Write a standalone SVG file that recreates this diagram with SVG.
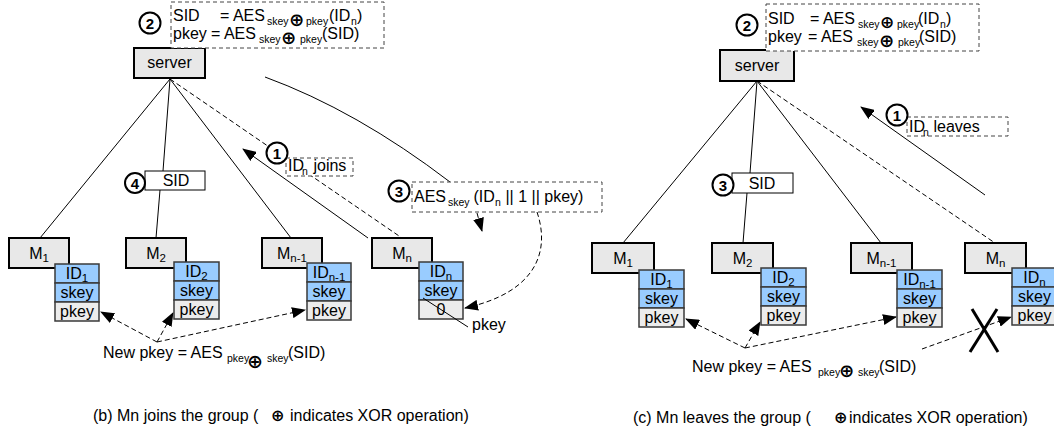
<svg xmlns="http://www.w3.org/2000/svg" width="1054" height="432" viewBox="0 0 1054 432">
  <defs>
    <marker id="arrow" markerWidth="14" markerHeight="11" refX="13" refY="5.5" orient="auto" markerUnits="userSpaceOnUse">
      <path d="M0,0 L14,5.5 L0,11 Z" fill="#000"/>
    </marker>
  </defs>
  <style>
    text { font-family: "Liberation Sans", Arial, sans-serif; font-size: 16px; fill: #000; }
    .sub { font-size: 10.5px; }
    .msub { font-size: 11.5px; }
    .xor { font-family: "DejaVu Sans", sans-serif; font-weight: bold; font-size: 18px; }
    .num { font-weight: bold; font-size: 15px; text-anchor: middle; }
    .c { text-anchor: middle; }
    .circ { fill: #fff; stroke: #000; stroke-width: 2; }
    .node { fill: #e8e8e8; stroke: #000; stroke-width: 2; }
    .blue { fill: #99ccff; stroke: #3a3a3a; stroke-width: 1.5; }
    .gray { fill: #ececec; stroke: #3a3a3a; stroke-width: 1.5; }
    .note { fill: #fff; stroke: #444; stroke-width: 1; stroke-dasharray: 4 3; }
    .box { fill: #fff; stroke: #000; stroke-width: 1; }
    .link { fill: none; stroke: #000; stroke-width: 1; }
    .dash { fill: none; stroke: #000; stroke-width: 1; stroke-dasharray: 5 3; }
    .cross { fill: none; stroke: #000; stroke-width: 3; }
  </style>

  <!-- ===================== connectors ===================== -->
  <g id="connectors">
    <!-- (b) tree edges -->
    <line class="link" x1="170" y1="79" x2="40" y2="238"/>
    <line class="link" x1="170" y1="79" x2="163" y2="171"/>
    <line class="link" x1="160" y1="190" x2="156" y2="238"/>
    <line class="link" x1="170" y1="79" x2="291" y2="238"/>
    <line class="dash" x1="170" y1="79" x2="402" y2="238"/>
    <line class="link" x1="368" y1="238" x2="243" y2="149" marker-end="url(#arrow)"/>
    <path class="link" d="M265,77 Q356.5,110.5 450,182"/>
    <line class="dash" x1="477" y1="213" x2="482" y2="231" marker-end="url(#arrow)"/>
    <path class="dash" d="M537,212 C550,250 538,292 465,308" marker-end="url(#arrow)"/>
    <line class="dash" x1="157" y1="342" x2="101" y2="312" marker-end="url(#arrow)"/>
    <line class="dash" x1="157" y1="342" x2="173" y2="313" marker-end="url(#arrow)"/>
    <line class="dash" x1="157" y1="342" x2="305" y2="310" marker-end="url(#arrow)"/>

    <!-- (c) tree edges -->
    <line class="link" x1="757" y1="81" x2="623" y2="243"/>
    <line class="link" x1="757" y1="81" x2="750" y2="173"/>
    <line class="link" x1="747" y1="193" x2="743" y2="243"/>
    <line class="link" x1="757" y1="81" x2="881" y2="243"/>
    <line class="dash" x1="757" y1="81" x2="995" y2="243"/>
    <line class="link" x1="985" y1="195" x2="861" y2="107" marker-end="url(#arrow)"/>
    <line class="dash" x1="745" y1="348" x2="686" y2="319" marker-end="url(#arrow)"/>
    <line class="dash" x1="745" y1="348" x2="760" y2="322" marker-end="url(#arrow)"/>
    <line class="dash" x1="745" y1="348" x2="896" y2="317" marker-end="url(#arrow)"/>
    <line class="dash" x1="922" y1="349" x2="1011" y2="317" marker-end="url(#arrow)"/>
    <line class="cross" x1="972" y1="309" x2="998" y2="352"/>
    <line class="cross" x1="997" y1="309" x2="970" y2="352"/>
  </g>

  <!-- ===================== (b) Mn joins ===================== -->
  <g id="b-server">
    <rect class="node" x="134" y="48" width="71" height="30"/>
    <text class="c" x="169.5" y="68">server</text>
  </g>
  <g id="b-step2">
    <rect class="note" x="171" y="2" width="213" height="46"/>
    <circle class="circ" cx="150" cy="23" r="10.5"/>
    <text class="num" x="150" y="28.5">2</text>
    <text><tspan x="173" y="21">SID</tspan><tspan x="220" y="21">= AES</tspan><tspan class="sub" x="267" y="25">skey</tspan><tspan class="xor" x="289" y="26">⊕</tspan><tspan class="sub" x="306" y="25">pkey</tspan><tspan x="329" y="21">(ID</tspan><tspan class="sub" x="351" y="25">n</tspan><tspan x="357" y="21">)</tspan></text>
    <text><tspan x="173" y="39">pkey</tspan><tspan x="211" y="39">= AES</tspan><tspan class="sub" x="259" y="43">skey</tspan><tspan class="xor" x="281" y="44">⊕</tspan><tspan class="sub" x="300" y="43">pkey</tspan><tspan x="322" y="39">(SID)</tspan></text>
  </g>
  <g id="b-step1">
    <rect class="note" x="286" y="158" width="67" height="18"/>
    <circle class="circ" cx="277" cy="153" r="10.5"/>
    <text class="num" x="277" y="158.5">1</text>
    <text><tspan x="288" y="171">ID</tspan><tspan class="sub" x="302" y="175">n</tspan><tspan x="309" y="171"> joins</tspan></text>
  </g>
  <g id="b-step3">
    <rect class="note" x="412" y="182" width="190" height="30"/>
    <circle class="circ" cx="399" cy="191" r="10.5"/>
    <text class="num" x="399" y="196.5">3</text>
    <text><tspan x="414" y="202">AES</tspan><tspan class="sub" x="448" y="206">skey</tspan><tspan x="469" y="202"> (ID</tspan><tspan class="sub" x="495" y="206">n</tspan><tspan x="501" y="202"> || 1 || pkey)</tspan></text>
  </g>
  <g id="b-step4">
    <rect class="box" x="145" y="171" width="60" height="19"/>
    <circle class="circ" cx="135" cy="183" r="10"/>
    <text class="num" x="135" y="188.5">4</text>
    <text class="c" x="176" y="186">SID</text>
  </g>

  <g id="b-m1">
    <rect class="node" x="9" y="238" width="60" height="30"/>
    <text class="c" x="39" y="259">M<tspan class="msub" dy="3">1</tspan></text>
    <rect class="blue" x="55" y="264" width="44" height="19"/>
    <rect class="blue" x="55" y="283" width="44" height="19"/>
    <rect class="gray" x="55" y="302" width="44" height="19"/>
    <text class="c" x="77" y="279">ID<tspan class="msub" dy="3">1</tspan></text>
    <text class="c" x="77" y="298">skey</text>
    <text class="c" x="77" y="317">pkey</text>
  </g>
  <g id="b-m2">
    <rect class="node" x="126" y="238" width="60" height="30"/>
    <text class="c" x="156" y="259">M<tspan class="msub" dy="3">2</tspan></text>
    <rect class="blue" x="174" y="262" width="45" height="19"/>
    <rect class="blue" x="174" y="281" width="45" height="19"/>
    <rect class="gray" x="174" y="300" width="45" height="19"/>
    <text class="c" x="196.5" y="277">ID<tspan class="msub" dy="3">2</tspan></text>
    <text class="c" x="196.5" y="296">skey</text>
    <text class="c" x="196.5" y="315">pkey</text>
  </g>
  <g id="b-mn1">
    <rect class="node" x="262" y="238" width="60" height="30"/>
    <text class="c" x="292" y="259">M<tspan class="msub" dy="3">n-1</tspan></text>
    <rect class="blue" x="307" y="263" width="44" height="19"/>
    <rect class="blue" x="307" y="282" width="44" height="19"/>
    <rect class="gray" x="307" y="301" width="44" height="19"/>
    <text class="c" x="329" y="278">ID<tspan class="msub" dy="3">n-1</tspan></text>
    <text class="c" x="329" y="297">skey</text>
    <text class="c" x="329" y="316">pkey</text>
  </g>
  <g id="b-mn">
    <rect class="node" x="372" y="238" width="60" height="30"/>
    <text class="c" x="402" y="259">M<tspan class="msub" dy="3">n</tspan></text>
    <rect class="blue" x="419" y="262" width="44" height="19"/>
    <rect class="blue" x="419" y="281" width="44" height="19"/>
    <rect class="gray" x="419" y="300" width="44" height="19"/>
    <text class="c" x="441" y="277">ID<tspan class="msub" dy="3">n</tspan></text>
    <text class="c" x="441" y="296">skey</text>
    <text class="c" x="441" y="315">0</text>
    <!-- strike-through: the zero placeholder is replaced by pkey -->
    <line class="link" x1="423" y1="298" x2="468" y2="327"/>
    <text x="472" y="330">pkey</text>
  </g>
  <g id="b-newkey">
    <text><tspan x="103" y="358">New pkey = AES</tspan><tspan class="sub" x="227" y="362">pkey</tspan><tspan class="xor" x="247" y="368" style="font-size:19px">⊕</tspan><tspan class="sub" x="267" y="362">skey</tspan><tspan x="288" y="358">(SID)</tspan></text>
  </g>
  <text id="b-caption"><tspan x="93" y="421">(b) Mn joins the group  (</tspan><tspan class="xor" x="271" y="421" style="font-size:16px">⊕</tspan><tspan x="290" y="421">indicates XOR operation)</tspan></text>

  <!-- ===================== (c) Mn leaves ===================== -->
  <g id="c-server">
    <rect class="node" x="720" y="50" width="74" height="31"/>
    <text class="c" x="757" y="71">server</text>
  </g>
  <g id="c-step2">
    <rect class="note" x="766" y="4" width="213" height="47"/>
    <circle class="circ" cx="747" cy="25" r="10.5"/>
    <text class="num" x="747" y="30.5">2</text>
    <text><tspan x="768" y="24">SID</tspan><tspan x="810" y="24">= AES</tspan><tspan class="sub" x="858" y="28">skey</tspan><tspan class="xor" x="880" y="28" style="font-size:17px">⊕</tspan><tspan class="sub" x="897" y="28">pkey</tspan><tspan x="918" y="24">(ID</tspan><tspan class="sub" x="940" y="28">n</tspan><tspan x="946" y="24">)</tspan></text>
    <text><tspan x="768" y="42">pkey</tspan><tspan x="808" y="42">= AES</tspan><tspan class="sub" x="857" y="46">skey</tspan><tspan class="xor" x="879" y="47">⊕</tspan><tspan class="sub" x="898" y="46">pkey</tspan><tspan x="919" y="42">(SID)</tspan></text>
  </g>
  <g id="c-step1">
    <rect class="note" x="907" y="117" width="101" height="19"/>
    <circle class="circ" cx="897" cy="115" r="10.5"/>
    <text class="num" x="897" y="120.5">1</text>
    <text><tspan x="909" y="132">ID</tspan><tspan class="sub" x="923" y="136">n</tspan><tspan x="929" y="132"> leaves</tspan></text>
  </g>
  <g id="c-step3">
    <rect class="box" x="732" y="173" width="61" height="20"/>
    <circle class="circ" cx="723" cy="185" r="10.5"/>
    <text class="num" x="723" y="190.5">3</text>
    <text class="c" x="762" y="189">SID</text>
  </g>

  <g id="c-m1">
    <rect class="node" x="592" y="243" width="62" height="30"/>
    <text class="c" x="623" y="264">M<tspan class="msub" dy="3">1</tspan></text>
    <rect class="blue" x="639" y="270" width="45" height="19"/>
    <rect class="blue" x="639" y="289" width="45" height="19"/>
    <rect class="gray" x="639" y="308" width="45" height="19"/>
    <text class="c" x="661.5" y="285">ID<tspan class="msub" dy="3">1</tspan></text>
    <text class="c" x="661.5" y="304">skey</text>
    <text class="c" x="661.5" y="323">pkey</text>
  </g>
  <g id="c-m2">
    <rect class="node" x="712" y="243" width="61" height="30"/>
    <text class="c" x="742.5" y="264">M<tspan class="msub" dy="3">2</tspan></text>
    <rect class="blue" x="761" y="268" width="45" height="19"/>
    <rect class="blue" x="761" y="287" width="45" height="19"/>
    <rect class="gray" x="761" y="306" width="45" height="19"/>
    <text class="c" x="783.5" y="283">ID<tspan class="msub" dy="3">2</tspan></text>
    <text class="c" x="783.5" y="302">skey</text>
    <text class="c" x="783.5" y="321">pkey</text>
  </g>
  <g id="c-mn1">
    <rect class="node" x="851" y="243" width="61" height="30"/>
    <text class="c" x="881.5" y="264">M<tspan class="msub" dy="3">n-1</tspan></text>
    <rect class="blue" x="897" y="270" width="45" height="19"/>
    <rect class="blue" x="897" y="289" width="45" height="19"/>
    <rect class="gray" x="897" y="308" width="45" height="19"/>
    <text class="c" x="919.5" y="285">ID<tspan class="msub" dy="3">n-1</tspan></text>
    <text class="c" x="919.5" y="304">skey</text>
    <text class="c" x="919.5" y="323">pkey</text>
  </g>
  <g id="c-mn">
    <rect class="node" x="965" y="243" width="61" height="30"/>
    <text class="c" x="995.5" y="264">M<tspan class="msub" dy="3">n</tspan></text>
    <rect class="blue" x="1012" y="268" width="45" height="19"/>
    <rect class="blue" x="1012" y="287" width="45" height="19"/>
    <rect class="gray" x="1012" y="306" width="45" height="19"/>
    <text class="c" x="1034.5" y="283">ID<tspan class="msub" dy="3">n</tspan></text>
    <text class="c" x="1034.5" y="302">skey</text>
    <text class="c" x="1034.5" y="321">pkey</text>
  </g>
  <g id="c-newkey">
    <text><tspan x="692" y="372">New pkey = AES</tspan><tspan class="sub" x="818" y="376">pkey</tspan><tspan class="xor" x="839" y="377" style="font-size:18px">⊕</tspan><tspan class="sub" x="858" y="376">skey</tspan><tspan x="879" y="372">(SID)</tspan></text>
  </g>
  <text id="c-caption"><tspan x="633" y="423">(c) Mn leaves the group  (</tspan><tspan class="xor" x="834" y="423" style="font-size:16px">⊕</tspan><tspan x="849" y="423">indicates XOR operation)</tspan></text>
</svg>
